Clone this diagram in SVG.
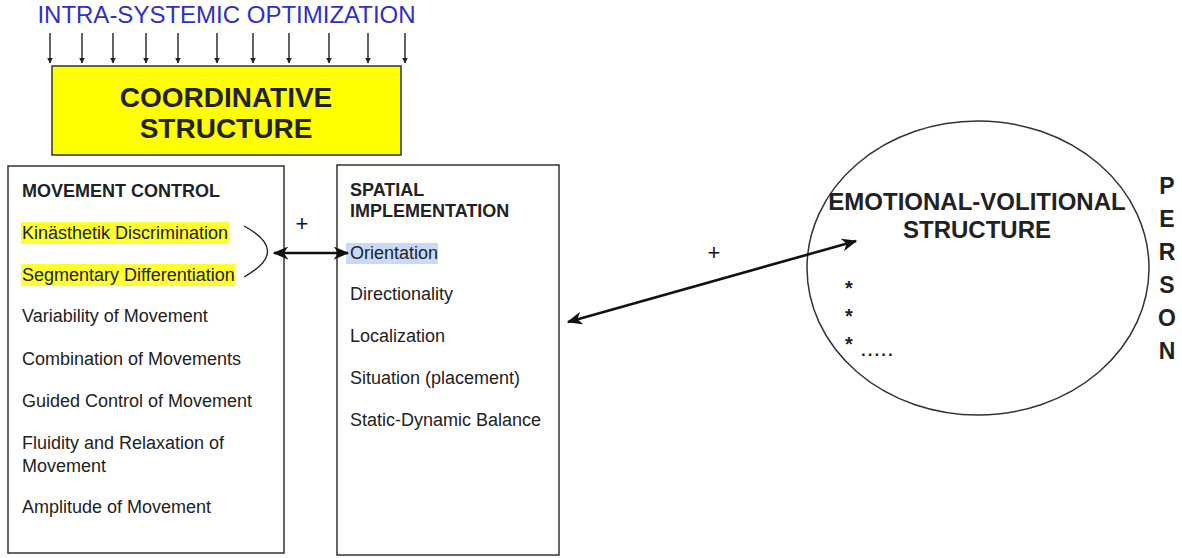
<svg xmlns="http://www.w3.org/2000/svg" width="1182" height="558" viewBox="0 0 1182 558">
<style>
text{font-family:"Liberation Sans",Arial,sans-serif;fill:#222}
.b{font-weight:bold}
.item{font-size:18px}
.hdr{font-size:18px;font-weight:bold}
.box{fill:#fff;stroke:#333;stroke-width:1.5}
.down{stroke:#222;stroke-width:1.4;marker-end:url(#sm)}
.dbl{stroke:#111;stroke-width:2.6;fill:none;marker-start:url(#bh);marker-end:url(#bh)}
</style>
<defs>
<marker id="sm" viewBox="0 0 10 10" refX="9" refY="5" markerWidth="6" markerHeight="7" markerUnits="userSpaceOnUse" orient="auto">
<path d="M0,0 L10,5 L0,10 z" fill="#222"/>
</marker>
<marker id="bh" viewBox="0 0 12 10" refX="11" refY="5" markerWidth="6" markerHeight="5" orient="auto-start-reverse">
<path d="M0,0 L12,5 L0,10 L3.5,5 z" fill="#111"/>
</marker>
</defs>
<rect width="1182" height="558" fill="#fff"/>

<g id="optimization">
<text x="226.5" y="23" font-size="24" text-anchor="middle" style="fill:#2f2fc8">INTRA-SYSTEMIC OPTIMIZATION</text>
</g>

<g id="coordinative">
<rect x="52" y="66" width="349" height="89" fill="#ffff00" stroke="#333" stroke-width="1.5"/>
<text class="b" x="226" y="107" font-size="28" text-anchor="middle">COORDINATIVE</text>
<text class="b" x="226" y="138" font-size="28" text-anchor="middle">STRUCTURE</text>
</g>

<g id="movement-control">
<rect class="box" x="8" y="166" width="276" height="387"/>
<rect x="21" y="222" width="208" height="22" fill="#ffff33"/>
<rect x="21" y="264" width="214" height="22" fill="#ffff33"/>
<text class="hdr" x="22" y="197">MOVEMENT CONTROL</text>
<text class="item" x="22" y="239">Kinästhetik Discrimination</text>
<text class="item" x="22" y="281">Segmentary Differentiation</text>
<text class="item" x="22" y="322">Variability of Movement</text>
<text class="item" x="22" y="365">Combination of Movements</text>
<text class="item" x="22" y="407">Guided Control of Movement</text>
<text class="item" x="22" y="449">Fluidity and Relaxation of</text>
<text class="item" x="22" y="472">Movement</text>
<text class="item" x="22" y="513">Amplitude of Movement</text>
<path d="M244 226 Q291 251 244 277" fill="none" stroke="#222" stroke-width="1.4"/>
</g>

<g id="spatial-implementation">
<rect class="box" x="337" y="165" width="222" height="390"/>
<rect x="346" y="243" width="92" height="21" fill="#c9daf8"/>
<text class="hdr" x="350" y="196">SPATIAL</text>
<text class="hdr" x="350" y="217">IMPLEMENTATION</text>
<text class="item" x="350" y="259">Orientation</text>
<text class="item" x="350" y="300">Directionality</text>
<text class="item" x="350" y="342">Localization</text>
<text class="item" x="350" y="384">Situation (placement)</text>
<text class="item" x="350" y="426">Static-Dynamic Balance</text>
</g>

<g id="emotional-volitional">
<ellipse cx="978" cy="268" rx="171" ry="147" fill="none" stroke="#333" stroke-width="1.5"/>
<text class="b" x="977" y="210" font-size="24" text-anchor="middle">EMOTIONAL-VOLITIONAL</text>
<text class="b" x="977" y="238" font-size="24" text-anchor="middle">STRUCTURE</text>
<text class="b" x="849" y="295" font-size="20" text-anchor="middle">*</text>
<text class="b" x="849" y="323" font-size="20" text-anchor="middle">*</text>
<text class="b" x="849" y="351" font-size="20" text-anchor="middle">*</text>
<text class="b" x="861" y="356" font-size="17" letter-spacing="2">.....</text>
</g>

<g id="person">
<text class="b" x="1167" y="194" font-size="23" text-anchor="middle">P</text>
<text class="b" x="1167" y="227" font-size="23" text-anchor="middle">E</text>
<text class="b" x="1167" y="260" font-size="23" text-anchor="middle">R</text>
<text class="b" x="1167" y="293" font-size="23" text-anchor="middle">S</text>
<text class="b" x="1167" y="326" font-size="23" text-anchor="middle">O</text>
<text class="b" x="1167" y="359" font-size="23" text-anchor="middle">N</text>
</g>

<g id="connectors">
<line class="down" x1="50" y1="33" x2="50" y2="63"/>
<line class="down" x1="82" y1="33" x2="82" y2="63"/>
<line class="down" x1="113" y1="33" x2="113" y2="63"/>
<line class="down" x1="146" y1="33" x2="146" y2="63"/>
<line class="down" x1="178" y1="33" x2="178" y2="63"/>
<line class="down" x1="217" y1="33" x2="217" y2="63"/>
<line class="down" x1="253" y1="33" x2="253" y2="63"/>
<line class="down" x1="289" y1="33" x2="289" y2="63"/>
<line class="down" x1="329" y1="33" x2="329" y2="63"/>
<line class="down" x1="368" y1="33" x2="368" y2="63"/>
<line class="down" x1="405" y1="33" x2="405" y2="63"/>
<line class="dbl" x1="274" y1="253" x2="348" y2="253"/>
<text x="302" y="231" font-size="22" text-anchor="middle" style="fill:#111">+</text>
<line class="dbl" x1="568" y1="322" x2="856" y2="241"/>
<text x="714" y="260" font-size="22" text-anchor="middle" style="fill:#111">+</text>
</g>
</svg>
